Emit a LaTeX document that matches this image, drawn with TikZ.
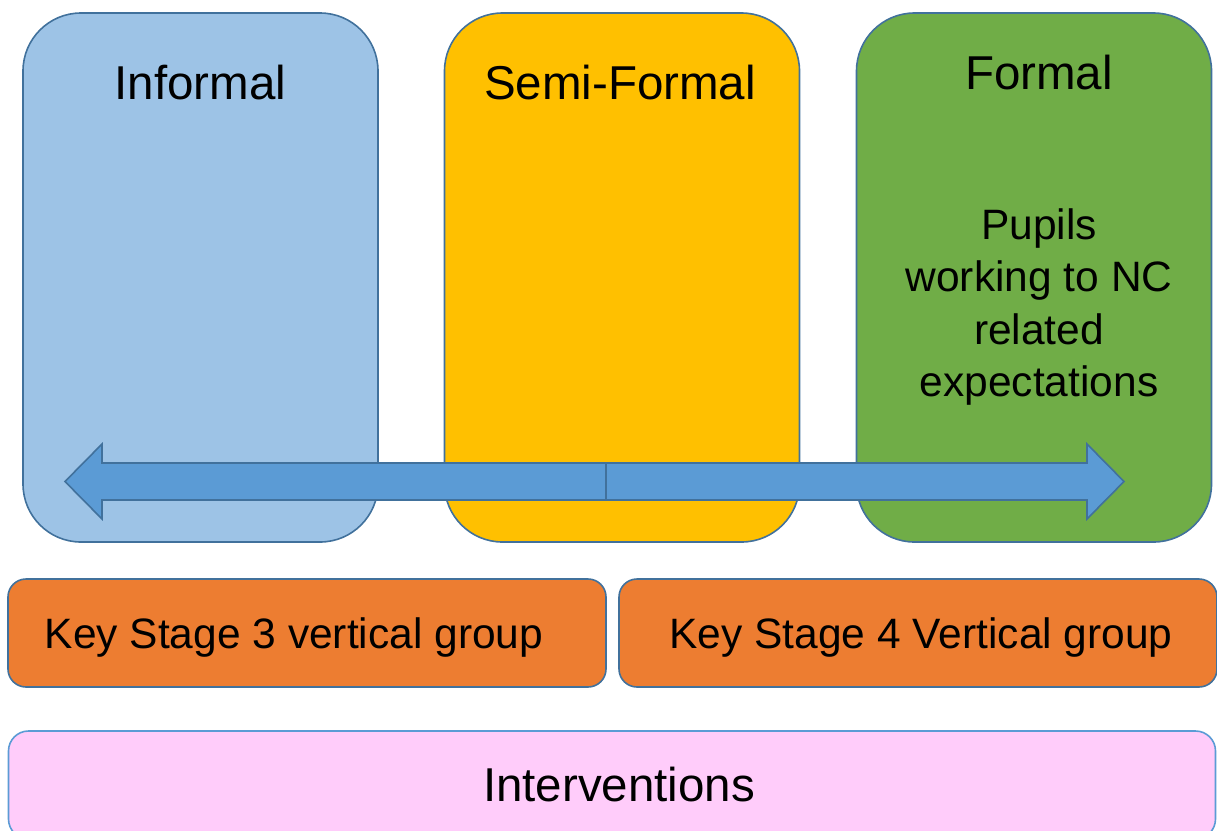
\documentclass[tikz,border=0pt]{standalone}
\usepackage{fontspec}
\setmainfont{Liberation Sans}
\definecolor{informal}{HTML}{9DC3E6}
\definecolor{semiformal}{HTML}{FFC000}
\definecolor{formal}{HTML}{70AD47}
\definecolor{edgeblue}{HTML}{41719C}
\definecolor{arrowblue}{HTML}{5B9BD5}
\definecolor{stage}{HTML}{ED7D31}
\definecolor{pink}{HTML}{FFCCFA}
\tikzset{
    colbox/.style={draw=edgeblue, rounded corners=58pt, minimum width=355pt, minimum height=529pt},
    stagebox/.style={draw=edgeblue, fill=stage, rounded corners=18pt, minimum width=598pt, minimum height=108pt},
    stagetext/.style={font=\fontsize{42.5}{51}\selectfont},
    title/.style={font=\fontsize{47.5}{57}\selectfont},
    bigarrow/.style={draw=edgeblue, fill=arrowblue, line join=miter},
}
\begin{document}
\begin{tikzpicture}[x=1pt, y=-1pt, line width=1.6pt]
    \useasboundingbox (0, 0) rectangle (1217, 830);
    \clip (0, 0) rectangle (1217, 830);

    \node[colbox, fill=informal] (informal) at (200.5, 277.5) {};
    \node[colbox, fill=semiformal] (semiformal) at (622, 277.5) {};
    \node[colbox, fill=formal] (formal) at (1034, 277.5) {};

    \node[title] (informal title) at (200.5, 83) {Informal};
    \node[title] (semiformal title) at (620, 83) {Semi-Formal};
    \node[title] (formal title) at (1039, 73) {Formal};
    \node[font=\fontsize{42.5}{52.5}\selectfont, align=center] (formal text) at (1039, 307)
        {Pupils\\working to NC\\related\\expectations};

    \draw[bigarrow] (606, 463) -- (102, 463) -- (102, 444) -- (65, 481.5) -- (102, 519) -- (102, 500) -- (606, 500) -- cycle;
    \draw[bigarrow] (606, 463) -- (1087, 463) -- (1087, 444) -- (1124, 481.5) -- (1087, 519) -- (1087, 500) -- (606, 500) -- cycle;

    \node[stagebox] (ks3) at (307, 633) {};
    \node[stagebox] (ks4) at (918, 633) {};
    \node[stagetext] (ks3 text) at (294, 638) {Key Stage 3 vertical group};
    \node[stagetext] (ks4 text) at (921, 638) {Key Stage 4 Vertical group};

    \node[draw=arrowblue, fill=pink, rounded corners=20pt, minimum width=1207pt, minimum height=108pt] (interventions) at (612, 785) {};
    \node[title] (interventions text) at (619, 785) {Interventions};
\end{tikzpicture}
\end{document}
